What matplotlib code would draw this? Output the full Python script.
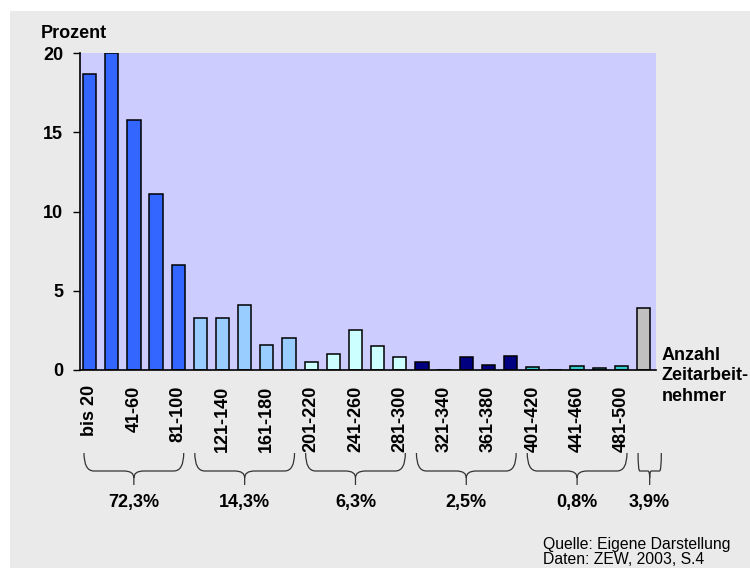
import matplotlib.pyplot as plt
from matplotlib.path import Path
from matplotlib.patches import PathPatch, Rectangle
from matplotlib.transforms import blended_transform_factory

plt.rcParams['font.family'] = ['Liberation Sans', 'DejaVu Sans']

# Data
categories = ['bis 20', '21-40', '41-60', '61-80', '81-100',
              '101-120', '121-140', '141-160', '161-180', '181-200',
              '201-220', '221-240', '241-260', '261-280', '281-300',
              '301-320', '321-340', '341-360', '361-380', '381-400',
              '401-420', '421-440', '441-460', '461-480', '481-500',
              'über 500']
values = [18.7, 20.0, 15.8, 11.1, 6.6,
          3.3, 3.3, 4.1, 1.6, 2.0,
          0.5, 1.0, 2.5, 1.5, 0.8,
          0.5, 0.0, 0.8, 0.3, 0.9,
          0.2, 0.0, 0.25, 0.1, 0.25,
          3.9]
group_sizes = [5, 5, 5, 5, 5, 1]
group_colors = ['#3366FF', '#99CCFF', '#CCFFFF', '#000080', '#33CCCC', '#C0C0C0']
group_labels = ['72,3%', '14,3%', '6,3%', '2,5%', '0,8%', '3,9%']

colors = []
for size, col in zip(group_sizes, group_colors):
    colors += [col] * size

fig = plt.figure(figsize=(7.5, 5.68), dpi=100, facecolor='white')
fig.patches.append(Rectangle((10 / 750, 0), 1, (568 - 11) / 568,
                             transform=fig.transFigure, facecolor='#EAEAEA',
                             edgecolor='none', zorder=-10))

ax = fig.add_axes([80 / 750, (568 - 370) / 568, 576 / 750, 317 / 568])
ax.set_facecolor('#CCCCFF')

x = list(range(len(values)))
ax.bar(x, values, width=0.6, color=colors, edgecolor='black', linewidth=1.1)

ax.set_xlim(-0.43, len(values) - 0.44)
ax.set_ylim(0, 20)
ax.set_yticks([0, 5, 10, 15, 20])
ax.tick_params(axis='y', direction='out', length=5, width=1, pad=7, labelsize=13)
for lbl in ax.get_yticklabels():
    lbl.set_fontweight('bold')

ax.set_xticks(x[:-1:2])
ax.set_xticklabels(categories[:-1:2], rotation=90, fontsize=13, fontweight='bold')
ax.tick_params(axis='x', length=0, pad=11)

for side in ['top', 'right']:
    ax.spines[side].set_visible(False)
ax.spines['left'].set_linewidth(1.2)
ax.spines['bottom'].set_linewidth(1.2)

fig.text(41 / 750, 1 - 34 / 568, 'Prozent', fontsize=13, fontweight='bold',
         va='center', ha='left')
fig.text(662 / 750, 1 - 376 / 568, 'Anzahl\nZeitarbeit-\nnehmer', fontsize=13,
         fontweight='bold', va='center', ha='left', linespacing=1.3)

# braces below the tick labels
trans = blended_transform_factory(ax.transData, fig.transFigure)
yt, ym, yb = 1 - 453 / 568, 1 - 471 / 568, 1 - 485 / 568
dy = 0.012


def brace(x0, x1, r):
    xm = (x0 + x1) / 2
    verts = [(x0, yt), (x0, ym), (x0 + r, ym),
             (xm - r, ym), (xm, ym), (xm, ym - dy),
             (xm, yb),
             (xm, ym - dy), (xm, ym), (xm + r, ym),
             (x1 - r, ym), (x1, ym), (x1, yt)]
    codes = [Path.MOVETO, Path.CURVE3, Path.CURVE3,
             Path.LINETO, Path.CURVE3, Path.CURVE3,
             Path.LINETO,
             Path.MOVETO, Path.CURVE3, Path.CURVE3,
             Path.LINETO, Path.CURVE3, Path.CURVE3]
    patch = PathPatch(Path(verts, codes), transform=trans, facecolor='none',
                      edgecolor='#333333', linewidth=0.9, clip_on=False)
    fig.patches.append(patch)
    return xm


start = 0
for size, label in zip(group_sizes, group_labels):
    if size > 1:
        xm = brace(start - 0.25, start + size - 0.75, 0.45)
    else:
        xm = brace(start - 0.25, start + 0.8, 0.08)
    fig.text(xm, 1 - 502 / 568, label, transform=trans, fontsize=13,
             fontweight='bold', ha='center', va='center')
    start += size

fig.text(543 / 750, 1 - 545 / 568, 'Quelle: Eigene Darstellung', fontsize=11.3,
         ha='left', va='center')
fig.text(543 / 750, 1 - 559 / 568, 'Daten: ZEW, 2003, S.4', fontsize=11.3,
         ha='left', va='center')

fig.savefig('out.png', dpi=100, facecolor=fig.get_facecolor())
